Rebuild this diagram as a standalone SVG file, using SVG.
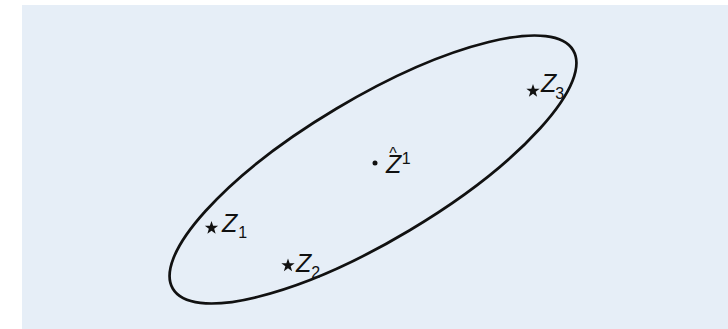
<svg xmlns="http://www.w3.org/2000/svg" width="728" height="329" viewBox="0 0 728 329">
  <defs>
    <style>
      .z { font-family: "Liberation Sans", Arial, sans-serif; font-style: italic; font-size: 25px; fill: #111; }
      .idx { font-family: "Liberation Sans", Arial, sans-serif; font-style: normal; font-size: 16px; fill: #111; }
    </style>
    <path id="star" d="M0,-7 L1.646,-2.265 L6.657,-2.163 L2.663,0.865 L4.114,5.663 L0,2.8 L-4.114,5.663 L-2.663,0.865 L-6.657,-2.163 L-1.646,-2.265 Z" fill="#111"/>
  </defs>
  <rect x="0" y="0" width="728" height="329" fill="#ffffff"/>
  <rect x="22" y="5" width="706" height="324" fill="#e6eef7"/>
  <g id="ellipse">
    <ellipse cx="373" cy="169.5" rx="233" ry="71" transform="rotate(-30.8 373 169.5)" fill="none" stroke="#111" stroke-width="2.7"/>
  </g>
  <g id="z1">
    <use href="#star" x="211.5" y="228"/>
    <text class="z" x="222" y="232">Z<tspan class="idx" dx="1" dy="6">1</tspan></text>
  </g>
  <g id="z2">
    <use href="#star" x="288" y="265.5"/>
    <text class="z" x="296" y="272">Z<tspan class="idx" dx="0" dy="5.5">2</tspan></text>
  </g>
  <g id="z3">
    <use href="#star" x="533" y="91"/>
    <text class="z" x="541" y="92">Z<tspan class="idx" dx="-1" dy="7">3</tspan></text>
  </g>
  <g id="zhat">
    <circle cx="375" cy="163" r="2.5" fill="#111"/>
    <text class="z" x="386" y="173">Z<tspan class="idx" dx="-12" dy="-14">^</tspan><tspan class="idx" dx="5" dy="5">1</tspan></text>
  </g>
</svg>
